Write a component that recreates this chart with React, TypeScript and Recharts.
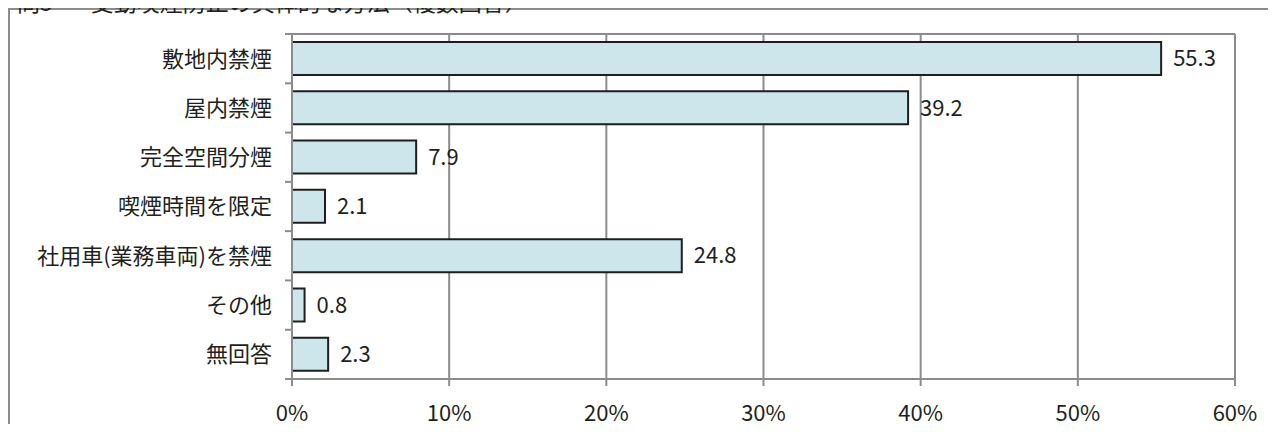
import { BarChart, Bar, XAxis, YAxis, CartesianGrid, LabelList } from 'recharts';

const categories = ['敷地内禁煙', '屋内禁煙', '完全空間分煙', '喫煙時間を限定', '社用車(業務車両)を禁煙', 'その他', '無回答'];
const percents = [55.3, 39.2, 7.9, 2.1, 24.8, 0.8, 2.3];
const xTicks = [0, 10, 20, 30, 40, 50, 60];

const data = categories.map((name, i) => ({ name, value: percents[i] }));

const WIDTH = 1266;
const HEIGHT = 414;
const MARGIN = { top: 24, right: 41, left: 0, bottom: 0 };
const X_AXIS_H = 45;
const Y_AXIS_W = 282;
const BAND = (HEIGHT - MARGIN.top - MARGIN.bottom - X_AXIS_H) / categories.length;

const GRID = '#8c8c8c';
const TEXT = '#231f20';
const FONT = '"Noto Sans CJK JP", "Noto Sans", sans-serif';

// category labels, with tick marks on the band boundaries (Excel style)
function CategoryTick({ x, y, payload, index }: any) {
  const last = index === categories.length - 1;
  return (
    <g>
      <line x1={x - 7} x2={x} y1={y - BAND / 2} y2={y - BAND / 2} stroke={GRID} strokeWidth={2} />
      {last && <line x1={x - 7} x2={x} y1={y + BAND / 2} y2={y + BAND / 2} stroke={GRID} strokeWidth={2} />}
      <text x={x - 20} y={y} dy="0.36em" textAnchor="end" fontSize={22} fill={TEXT} fontFamily={FONT}>
        {payload.value}
      </text>
    </g>
  );
}

export default function App() {
  return (
    <div
      style={{
        position: 'relative',
        width: WIDTH,
        height: HEIGHT,
        borderLeft: `2px solid ${GRID}`,
        borderTop: `2px solid ${GRID}`,
        fontFamily: FONT,
        background: '#fff',
      }}
    >
      <div
        style={{
          position: 'absolute',
          left: 7,
          top: -20,
          fontSize: 23,
          lineHeight: '23px',
          color: TEXT,
          whiteSpace: 'nowrap',
        }}
      >
        <span>問5</span>
        <span style={{ marginLeft: 38 }}>受動喫煙防止の具体的な方法（複数回答）</span>
      </div>
      <BarChart width={WIDTH} height={HEIGHT} data={data} layout="vertical" margin={MARGIN}>
        <CartesianGrid
          stroke={GRID}
          strokeWidth={2}
          horizontalCoordinatesGenerator={({ offset }: any) => [offset.top]}
        />
        <XAxis
          type="number"
          domain={[0, 60]}
          ticks={xTicks}
          tickFormatter={(v: number) => `${v}%`}
          height={X_AXIS_H}
          axisLine={{ stroke: GRID, strokeWidth: 2 }}
          tickLine={{ stroke: GRID, strokeWidth: 2 }}
          tickSize={7}
          tickMargin={19}
          tick={{ fontSize: 22, fill: TEXT, fontFamily: FONT }}
        />
        <YAxis
          type="category"
          dataKey="name"
          width={Y_AXIS_W}
          axisLine={{ stroke: GRID, strokeWidth: 2 }}
          tickLine={false}
          tickSize={0}
          tickMargin={0}
          tick={<CategoryTick />}
          interval={0}
        />
        <Bar dataKey="value" fill="#cce6ec" stroke="#1e1e1e" strokeWidth={2} barSize={33} isAnimationActive={false}>
          <LabelList dataKey="value" position="right" offset={12} fontSize={22} fill={TEXT} fontFamily={FONT} />
        </Bar>
      </BarChart>
    </div>
  );
}
